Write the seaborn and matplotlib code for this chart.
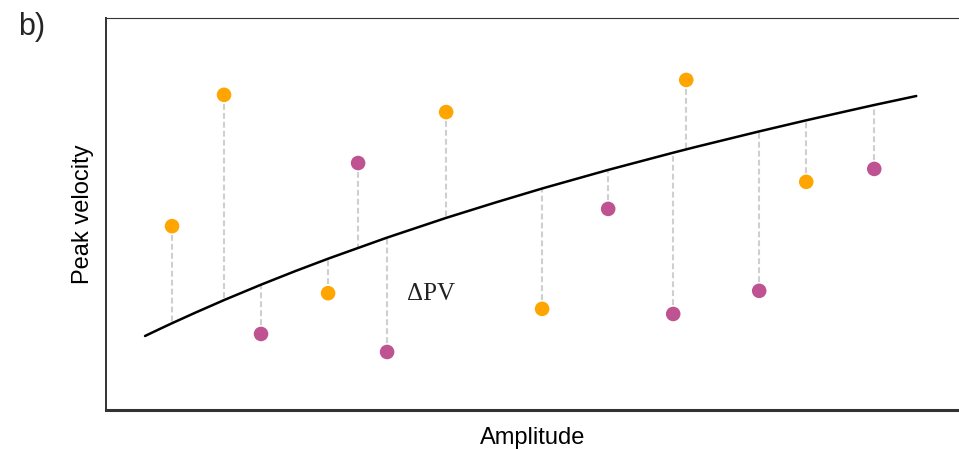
import matplotlib
matplotlib.use("Agg")
import matplotlib.pyplot as plt
import seaborn as sns
import pandas as pd

# fitted curve (amplitude vs peak velocity)
curve_amp = [4.58, 6.10, 7.75, 10.45, 13.85, 18.19, 22.18, 26.06, 32.98, 39.91,
             45.66, 51.29, 58.92, 66.55, 69.13, 76.64, 82.16, 86.74, 90.14, 95.07]
curve_pv = [18.88, 20.46, 22.14, 24.80, 28.04, 31.97, 35.41, 38.60, 43.98, 49.01,
            52.91, 56.58, 61.25, 65.64, 67.07, 71.07, 73.90, 76.15, 77.81, 80.10]

# observed saccades, two groups (fit = curve value at the same amplitude)
orange_amp = [7.75, 13.85, 26.06, 39.91, 51.17, 68.08, 82.16]
orange_pv = [46.9, 80.4, 29.8, 76.0, 25.8, 84.2, 58.2]
orange_fit = [22.1, 28.0, 38.6, 49.0, 56.5, 66.5, 73.9]

purple_amp = [18.19, 29.58, 32.98, 58.92, 66.55, 76.64, 90.14]
purple_pv = [19.4, 63.0, 14.8, 51.3, 24.5, 30.4, 61.5]
purple_fit = [32.0, 41.4, 44.0, 61.3, 65.6, 71.1, 77.8]

curve = pd.DataFrame({"amp": curve_amp, "pv": curve_pv})
pts = pd.DataFrame({
    "amp": orange_amp + purple_amp,
    "pv": orange_pv + purple_pv,
    "fit": orange_fit + purple_fit,
    "group": ["a"] * len(orange_amp) + ["b"] * len(purple_amp),
})

sns.set_theme(style="white")
plt.rcParams["font.family"] = ["Liberation Sans", "DejaVu Sans"]

fig = plt.figure(figsize=(9.59, 4.5), dpi=100)
ax = fig.add_axes([106 / 959, 40 / 450, 854 / 959, 392 / 450])

# residual lines
ax.vlines(pts["amp"], pts["pv"], pts["fit"], colors="#cfcfcf",
          linestyles=(0, (2.8, 1.5)), linewidth=1.5, zorder=1)

sns.lineplot(data=curve, x="amp", y="pv", color="black", linewidth=1.8,
             ax=ax, zorder=2)
sns.scatterplot(data=pts, x="amp", y="pv", hue="group",
                palette={"a": "#FFA500", "b": "#BF5290"},
                s=110, edgecolor="none", legend=False, ax=ax, zorder=3)

ax.text(38.1, 29.6, "ΔPV", family=["Liberation Serif", "DejaVu Serif"],
        fontsize=18, ha="center", va="center", color="#222222")

ax.set_xlim(0, 100.2)
ax.set_ylim(0, 100)
ax.set_xticks([])
ax.set_yticks([])
ax.set_xlabel("Amplitude", fontsize=17, color="black", labelpad=12)
ax.set_ylabel("Peak velocity", fontsize=17, color="black", labelpad=9)

ax.spines["right"].set_visible(False)
ax.spines["left"].set_linewidth(1.4)
ax.spines["top"].set_linewidth(0.8)
ax.spines["bottom"].set_linewidth(2.2)
for sp in ("left", "top", "bottom"):
    ax.spines[sp].set_color("#333333")

fig.text(18 / 959, 1 - 12 / 450, "b)", fontsize=22, ha="left", va="top")

fig.savefig("out.png", dpi=100)
